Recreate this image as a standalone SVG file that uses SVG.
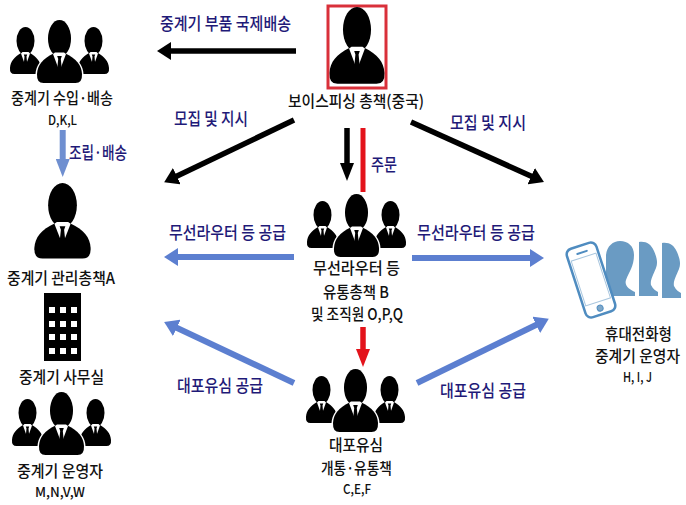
<svg xmlns="http://www.w3.org/2000/svg" xmlns:xlink="http://www.w3.org/1999/xlink" width="686" height="505" viewBox="0 0 686 505">
<style>
text{font-family:"Noto Sans CJK KR","Noto Sans",sans-serif;font-size:16px;fill:#111;font-weight:500}
.l{fill:#1f1a78;font-size:17.500px}
.p{font-size:15.500px}
.s{font-size:13.500px}
.cn{fill:none}
.bk{stroke:#000;stroke-width:5.500}
.bl{stroke:#5c7fd0;stroke-width:6}
.rd{stroke:#e3131b;stroke-width:5}
.sil{fill:#6a9bc3}
</style>
<defs>
<marker id="hk" viewBox="0 0 14 18" markerWidth="14" markerHeight="18" markerUnits="userSpaceOnUse" refX="2" refY="9" orient="auto"><path d="M0 0L14 9L0 18Z" fill="#000"/></marker>
<marker id="hb" viewBox="0 0 14 18" markerWidth="14" markerHeight="18" markerUnits="userSpaceOnUse" refX="2" refY="9" orient="auto"><path d="M0 0L14 9L0 18Z" fill="#5c7fd0"/></marker>
<marker id="tk" viewBox="0 0 18 14" markerWidth="18" markerHeight="14" markerUnits="userSpaceOnUse" refX="2" refY="7" orient="auto"><path d="M0 0L18 7L0 14Z" fill="#000"/></marker>
<marker id="tb" viewBox="0 0 18 14" markerWidth="18" markerHeight="14" markerUnits="userSpaceOnUse" refX="2" refY="7" orient="auto"><path d="M0 0L18 7L0 14Z" fill="#6f8fd0"/></marker>
<marker id="tr" viewBox="0 0 18 14" markerWidth="18" markerHeight="14" markerUnits="userSpaceOnUse" refX="2" refY="7" orient="auto"><path d="M0 0L18 7L0 14Z" fill="#e3131b"/></marker>
<g id="person">
<ellipse cx="0" cy="18.500" rx="11.500" ry="18.500" fill="#000"/>
<path d="M-16 63Q-23 63-22.500 54C-22 45-17 39-6 33.500L6 33.500C17 39 22 45 22.500 54Q23 63 16 63Z" fill="#000"/>
<path d="M-6.500 34L-4.500 32.500L4.500 32.500L6.500 34L0.500 50L-0.500 50Z" fill="#fff"/>
<path d="M-2.300 36H2.300L1.300 39L2.300 49L0 53L-2.300 49L-1.300 39Z" fill="#000"/>
</g>
<g id="side">
<ellipse cx="0" cy="14" rx="9" ry="14" fill="#000"/>
<path d="M-11 47Q-16 47-15.500 41C-15 34-11 30-4.500 26L4.500 26C11 30 15 34 15.500 41Q16 47 11 47Z" fill="#000"/>
<path d="M-4.500 26.500L-3 25H3L4.500 26.500L0.400 38H-0.400Z" fill="#fff"/>
<path d="M-1.700 27.500H1.700L1 29.500L1.700 37L0 40L-1.700 37L-1 29.500Z" fill="#000"/>
</g>
<g id="team">
<use xlink:href="#side" href="#side" transform="translate(-34 7)"/>
<use xlink:href="#side" href="#side" transform="translate(34 7)"/>
<path d="M-16 63Q-23 63-22.500 54C-22 45-17 39-6 33.500L6 33.500C17 39 22 45 22.500 54Q23 63 16 63Z" fill="#fff" stroke="#fff" stroke-width="3"/>
<use xlink:href="#person" href="#person"/>
</g>
</defs>
<rect width="686" height="505" fill="#fff"/>

<g id="connectors" class="cn">
<path class="bk" d="M296 51H169" marker-end="url(#hk)"/>
<path class="bk" d="M294 120L175 177" marker-end="url(#hk)"/>
<path class="bk" d="M347 128V165" marker-end="url(#tk)"/>
<path class="rd" d="M363 128V192"/>
<path class="bk" d="M411 122L533 177" marker-end="url(#hk)"/>
<path class="bl" d="M294 257H176" marker-end="url(#hb)"/>
<path class="bl" d="M412 258H532" marker-end="url(#hb)"/>
<path class="bl" d="M294 383L175 327" marker-end="url(#hb)"/>
<path class="bl" d="M417 383L538 324" marker-end="url(#hb)"/>
<path class="bl" style="stroke:#6f8fd0" d="M62.700 130V161" marker-end="url(#tb)"/>
<path class="rd" style="stroke-width:5.500" d="M363 327V351" marker-end="url(#tr)"/>
</g>

<g id="edge-labels">
<text class="l" x="160" y="30" textLength="131" lengthAdjust="spacingAndGlyphs">중계기 부품 국제배송</text>
<text class="l" x="174" y="125" textLength="74" lengthAdjust="spacingAndGlyphs">모집 및 지시</text>
<text class="l" x="450" y="129" textLength="76" lengthAdjust="spacingAndGlyphs">모집 및 지시</text>
<text class="l" x="69" y="159" textLength="58" lengthAdjust="spacingAndGlyphs">조립·배송</text>
<text class="l" x="371" y="171" textLength="26" lengthAdjust="spacingAndGlyphs">주문</text>
<text class="l" x="169" y="239" textLength="117" lengthAdjust="spacingAndGlyphs">무선라우터 등 공급</text>
<text class="l" x="417" y="239" textLength="118" lengthAdjust="spacingAndGlyphs">무선라우터 등 공급</text>
<text class="l" x="177" y="392" textLength="86" lengthAdjust="spacingAndGlyphs">대포유심 공급</text>
<text class="l" x="440" y="397" textLength="86" lengthAdjust="spacingAndGlyphs">대포유심 공급</text>
</g>

<g id="node-boss">
<rect x="328" y="6" width="58" height="82" fill="#fff" stroke="#d9303a" stroke-width="3"/>
<use xlink:href="#person" href="#person" transform="translate(357 7) scale(1.22)"/>
<text x="288" y="107" textLength="136" lengthAdjust="spacingAndGlyphs">보이스피싱 총책(중국)</text>
</g>

<g id="node-import">
<use xlink:href="#team" href="#team" transform="translate(59.500 20)"/>
<text x="11" y="104" textLength="102" lengthAdjust="spacingAndGlyphs">중계기 수입·배송</text>
<text class="s" x="48" y="125" textLength="29" lengthAdjust="spacingAndGlyphs">D,K,L</text>
</g>

<g id="node-manager">
<use xlink:href="#person" href="#person" transform="translate(62.500 183) scale(1.25 1.2)"/>
<text x="7" y="284" textLength="108" lengthAdjust="spacingAndGlyphs">중계기 관리총책A</text>
</g>

<g id="node-office">
<rect x="44" y="293" width="37" height="68" fill="#000"/>
<path fill="#fff" d="M49 307h6v6h-6zM60 307h6v6h-6zM71 307h6v6h-6zM49 321h6v6h-6zM60 321h6v6h-6zM71 321h6v6h-6zM49 334h6v6h-6zM60 334h6v6h-6zM71 334h6v6h-6zM49 348h6v6h-6zM60 348h6v6h-6zM71 348h6v6h-6z"/>
<text x="19" y="383" textLength="85" lengthAdjust="spacingAndGlyphs">중계기 사무실</text>
</g>

<g id="node-operator">
<use xlink:href="#team" href="#team" transform="translate(61.500 392)"/>
<text x="17" y="477" textLength="86" lengthAdjust="spacingAndGlyphs">중계기 운영자</text>
<text class="s" x="35" y="497" textLength="50" lengthAdjust="spacingAndGlyphs">M,N,V,W</text>
</g>

<g id="node-router">
<use xlink:href="#team" href="#team" transform="translate(356.500 194)"/>
<text x="313" y="274" textLength="87" lengthAdjust="spacingAndGlyphs">무선라우터 등</text>
<text x="323" y="298" textLength="66" lengthAdjust="spacingAndGlyphs">유통총책 B</text>
<text x="311" y="320" textLength="92" lengthAdjust="spacingAndGlyphs">및 조직원 O,P,Q</text>
</g>

<g id="node-sim">
<use xlink:href="#team" href="#team" transform="translate(355.500 369)"/>
<text x="329" y="451" textLength="54" lengthAdjust="spacingAndGlyphs">대포유심</text>
<text x="321" y="474" textLength="71" lengthAdjust="spacingAndGlyphs">개통·유통책</text>
<text class="s" x="343" y="494" textLength="28" lengthAdjust="spacingAndGlyphs">C,E,F</text>
</g>

<g id="node-phone">
<path class="sil" d="M606 296V255C607 246 613 241 620 241C628 241 634 246 634 255C634 266 629 272 626 280C624 286 630 290 635 292V296Z"/>
<path class="sil" d="M639 296V242C646 241 651 244 654 251C657 258 658 263 656 268C653 275 650 281 651 285C653 289 656 291 658 292V296Z"/>
<path class="sil" d="M662 298V243C669 242 674 245 677 252C680 259 681 264 679 269C676 276 673 282 674 286C676 290 679 292 681 293V298Z"/>
<g transform="translate(591 280) rotate(-18)">
<rect x="-15.500" y="-36" width="31" height="72" rx="6" fill="#fff" stroke="#4f8cc0" stroke-width="2.500"/>
<rect x="-13" y="-24" width="26" height="47" fill="#fff" stroke="#a9c6de" stroke-width="1"/>
<rect x="-6" y="-30" width="12" height="2" rx="1" fill="#4f8cc0"/>
<circle cx="0" cy="29.500" r="3" fill="#7fa8c9" stroke="#4f8cc0"/>
</g>
<text class="p" x="605" y="340" textLength="67" lengthAdjust="spacingAndGlyphs">휴대전화형</text>
<text class="p" x="595" y="362" textLength="85" lengthAdjust="spacingAndGlyphs">중계기 운영자</text>
<text class="s" x="623" y="382" textLength="29" lengthAdjust="spacingAndGlyphs">H, I, J</text>
</g>
</svg>
